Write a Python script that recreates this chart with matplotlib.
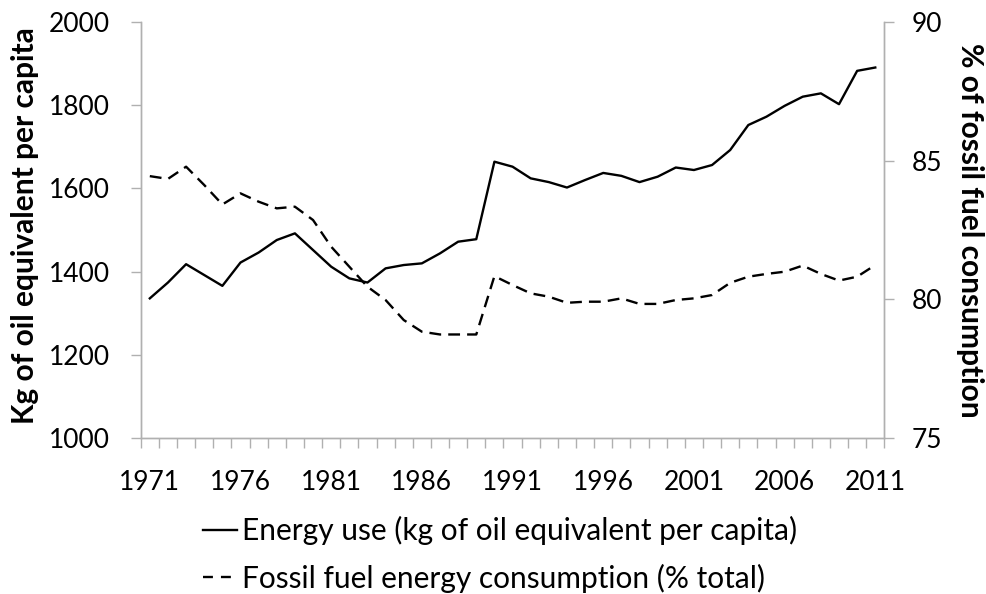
import matplotlib.pyplot as plt
from matplotlib.lines import Line2D
import numpy as np

plt.rcParams['font.family'] = ['Lato', 'DejaVu Sans']

# data
years = list(range(1971, 2012))
energy_use = [1336, 1374, 1418, 1392, 1366, 1422, 1446, 1476, 1492, 1452,
              1412, 1384, 1374, 1408, 1416, 1420, 1444, 1472, 1478, 1664,
              1652, 1624, 1615, 1602, 1620, 1637, 1630, 1615, 1628, 1650,
              1644, 1656, 1692, 1752, 1772, 1798, 1820, 1828, 1802, 1882,
              1890]
fossil_share = [84.44, 84.34, 84.78, 84.12, 83.42, 83.82, 83.52, 83.28, 83.34, 82.86,
                81.90, 81.18, 80.46, 79.98, 79.26, 78.84, 78.74, 78.74, 78.74, 80.84,
                80.52, 80.22, 80.10, 79.88, 79.92, 79.92, 80.04, 79.84, 79.84, 79.98,
                80.04, 80.16, 80.60, 80.82, 80.92, 81.00, 81.22, 80.92, 80.68, 80.82,
                81.24]
label_years = [1971, 1976, 1981, 1986, 1991, 1996, 2001, 2006, 2011]

grey = '#b0b0b0'
fs = 19

fig = plt.figure(figsize=(9.87, 5.94), dpi=100)
ax = fig.add_axes([0.1426, 0.262, 0.7534, 0.7015])
ax2 = ax.twinx()

x = np.arange(len(years))
l1, = ax.plot(x, energy_use, color='black', lw=1.7)
l2, = ax2.plot(x, fossil_share, color='black', lw=1.7, dashes=(5, 3))

ax.set_xlim(-0.5, len(years) - 0.5)
ax.set_ylim(1000, 2000)
ax2.set_ylim(75, 90)
ax.set_yticks(range(1000, 2001, 200))
ax2.set_yticks([75, 80, 85, 90])

ax.set_xticks([years.index(y) for y in label_years])
ax.set_xticklabels([str(y) for y in label_years])
ax.set_xticks(np.arange(-0.5, len(years)), minor=True)
ax.tick_params(axis='x', which='major', length=0, labelsize=fs, pad=23)
ax.tick_params(axis='x', which='minor', length=7, color=grey, width=1)
ax.tick_params(axis='y', length=7, color=grey, width=1, labelsize=fs, pad=15)
ax2.tick_params(axis='y', length=7.5, color=grey, width=1, labelsize=fs, pad=12)

for a in (ax, ax2):
    a.spines['top'].set_visible(False)
    for s in ('left', 'right', 'bottom'):
        a.spines[s].set_color(grey)
        a.spines[s].set_linewidth(1)

ax.set_ylabel('Kg of oil equivalent per capita', fontsize=21.5, fontweight='bold',
              va='center')
ax.yaxis.set_label_coords(-0.1556, 0.51)
ax2.set_ylabel('% of fossil fuel consumption', fontsize=21.5, fontweight='bold',
               rotation=270, va='center')
ax2.yaxis.set_label_coords(1.1153, 0.5)

h1 = Line2D([], [], color='black', lw=1.7)
h2 = Line2D([], [], color='black', lw=1.7, dashes=(4.2, 3.4))
fig.legend([h1, h2],
           ['Energy use (kg of oil equivalent per capita)',
            'Fossil fuel energy consumption (% total)'],
           loc='upper left', bbox_to_anchor=(0.2057, 0.131), frameon=False,
           fontsize=21.5, handlelength=1.15, handletextpad=0.15, labelspacing=0.62,
           borderaxespad=0, borderpad=0)

fig.savefig('out.png', dpi=100)
